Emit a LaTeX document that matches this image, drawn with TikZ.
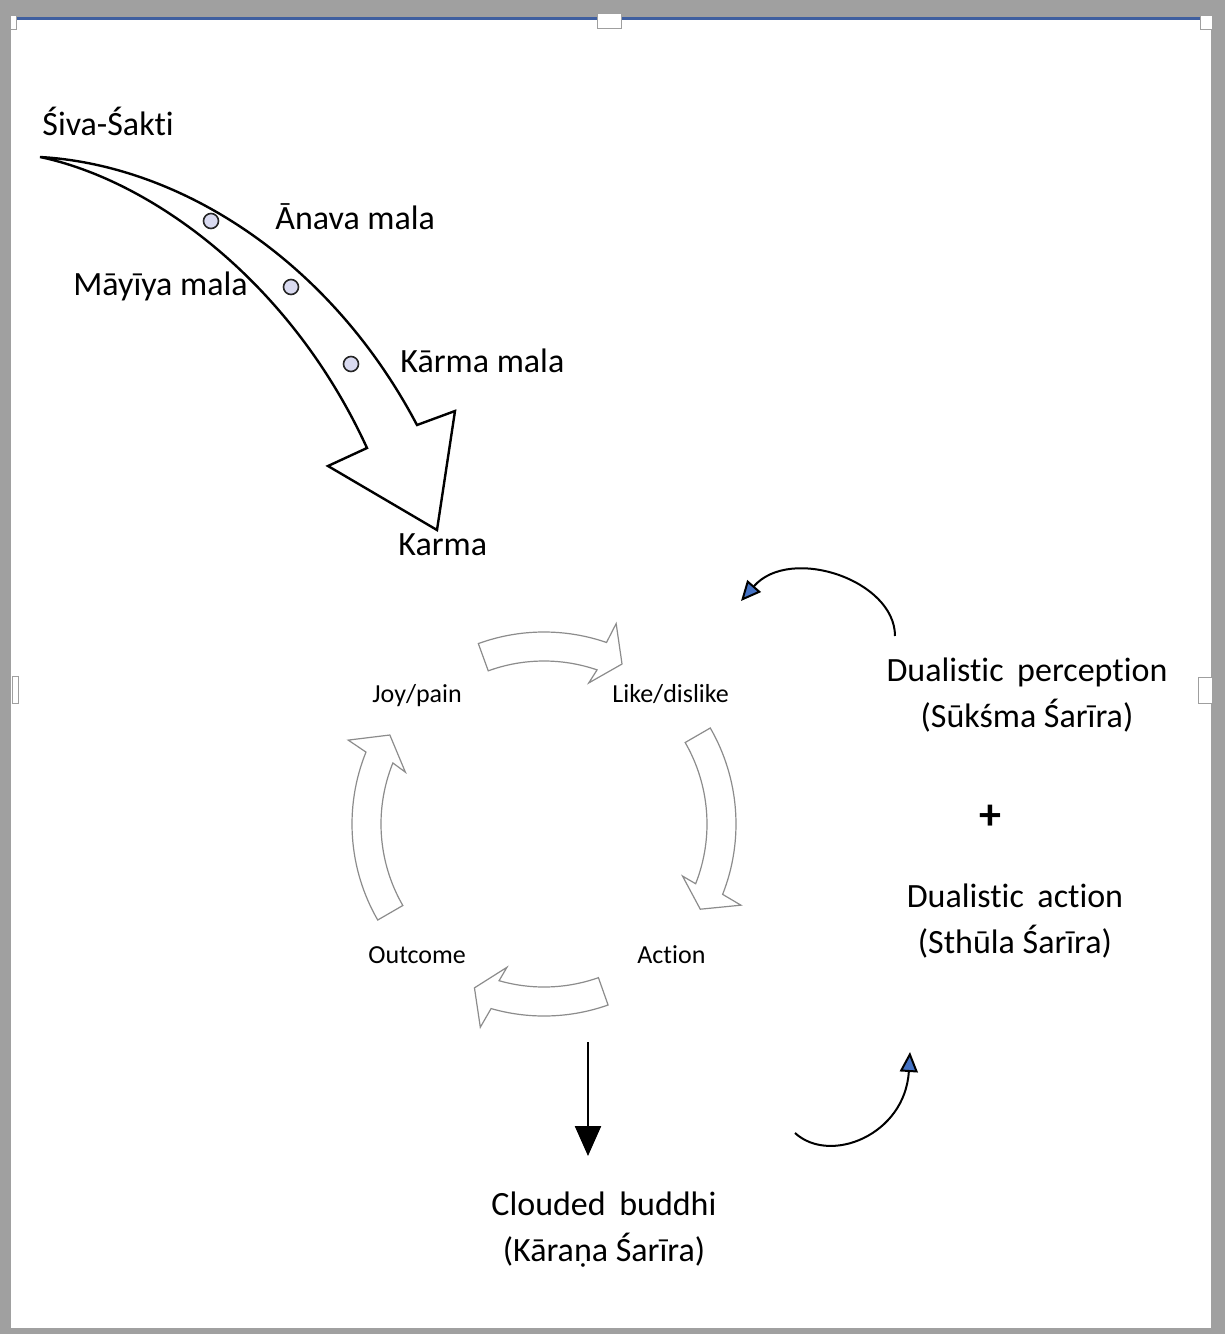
\documentclass[tikz,border=0pt]{standalone}
\usepackage{fontspec}
\setmainfont[Ligatures=NoCommon]{Carlito}
\usetikzlibrary{arrows.meta}

\definecolor{framegrey}{HTML}{A0A0A0}
\definecolor{selblue}{HTML}{3F5FA0}
\definecolor{dotfill}{HTML}{D9DAF0}
\definecolor{tipblue}{HTML}{4472C4}
\definecolor{cyclegrey}{HTML}{8C8C8C}

\begin{document}
\begin{tikzpicture}[x=0.5pt,y=-0.5pt,
  biglabel/.style={font=\fontsize{17}{23}\selectfont, inner sep=0pt},
  steplabel/.style={font=\fontsize{13}{16}\selectfont, inner sep=0pt},
  handle/.style={draw=gray!75, fill=white, line width=0.5pt},
  bigarrow/.style={draw=black, fill=white, line width=1.2pt, line join=miter},
  mala/.style={circle, draw=black!85, fill=dotfill, line width=0.8pt, minimum size=7.5pt, inner sep=0pt},
  cyclearrow/.style={draw=cyclegrey, fill=white, line width=0.6pt, line join=miter},
  swirl/.style={draw=black, line width=1pt, -{Triangle[length=10pt,width=9pt,fill=tipblue]}},
  droparrow/.style={draw=black, line width=1.2pt, -{Triangle[length=15pt,width=13pt]}}
]
\useasboundingbox (0,0) rectangle (1225,1334);

% window frame with selection line and handles
\fill[framegrey] (0,0) rectangle (1225,1334);
\fill[white] (11,20) rectangle (1211,1328);
\draw[selblue, line width=1.5pt] (12,18.5) -- (1210,18.5);
\draw[handle] (10,15) rectangle (16,29);
\draw[handle] (597,13) rectangle (621,28);
\draw[handle] (1200,15) rectangle (1212,29);
\draw[handle] (12,676) rectangle (18,703);
\draw[handle] (1198,677) rectangle (1212,703);

% descent of the three malas
\coordinate (tail) at (40,157);
\draw[bigarrow] (tail) .. controls (180,165) and (330,260) .. (417,425)
  -- (455,411) -- (437,530) -- (328,466) -- (367,448)
  .. controls (290,280) and (150,180) .. (tail) -- cycle;
\node[mala] (anava) at (211,221) {};
\node[mala] (mayiya) at (291,287) {};
\node[mala] (karmadot) at (351,364) {};

\node[biglabel, anchor=base west] (siva) at (42,135) {Śiva-Śakti};
\node[biglabel, anchor=base west] (anavalbl) at (275,229) {Ānava mala};
\node[biglabel, anchor=base west] (mayiyalbl) at (73,295) {Māyīya mala};
\node[biglabel, anchor=base west] (karmalbl) at (400,372) {Kārma mala};
\node[biglabel, anchor=base west] (karma) at (398,555) {Karma};

% the cycle
\node[steplabel, anchor=base west] (joy) at (372,702) {Joy/pain};
\node[steplabel, anchor=base west] (like) at (612,702) {Like/dislike};
\node[steplabel, anchor=base west] (outcome) at (368,963) {Outcome};
\node[steplabel, anchor=base west] (action) at (637,963) {Action};

\begin{scope}[shift={(544,824)}, y=0.5pt]
  \foreach \a/\b/\bo/\bi/\t in {110/71/70.2/72.4/64,
                                 30/-21.5/-22.4/-20.6/-28.6,
                                 -70.5/-106/-107.4/-104.5/-113,
                                 210/158/156.8/159.5/150}
    \draw[cyclearrow] (\a:192) arc[start angle=\a, end angle=\b, radius=192]
      -- (\bo:213) -- (\t:178) -- (\bi:148) -- (\b:163)
      arc[start angle=\b, end angle=\a, radius=163] -- cycle;
\end{scope}

% outcomes of the cycle
\coordinate (dropstart) at (588,1042);
\coordinate (dropend) at (588,1156);
\draw[droparrow] (dropstart) -- (dropend);
\node[biglabel, align=center] (buddhi) at (604,1230)
  {Clouded\hspace{0.4em}buddhi\\(Kāraṇa Śarīra)};

\node[biglabel, align=center] (perception) at (1027,695)
  {Dualistic\hspace{0.4em}perception\\(Sūkśma Śarīra)};
\node[font=\fontsize{22}{22}\selectfont\bfseries, inner sep=0pt] (plus) at (990,817) {+};
\node[biglabel, align=center] (dualaction) at (1015,921)
  {Dualistic\hspace{0.4em}action\\(Sthūla Śarīra)};

\coordinate (upstart) at (895,636);
\coordinate (upend) at (741,601);
\draw[swirl] (upstart) .. controls (895,580) and (790,545) .. (upend);
\coordinate (lowstart) at (795,1133);
\coordinate (lowend) at (910,1052);
\draw[swirl] (lowstart) .. controls (830,1165) and (905,1135) .. (lowend);
\end{tikzpicture}
\end{document}
